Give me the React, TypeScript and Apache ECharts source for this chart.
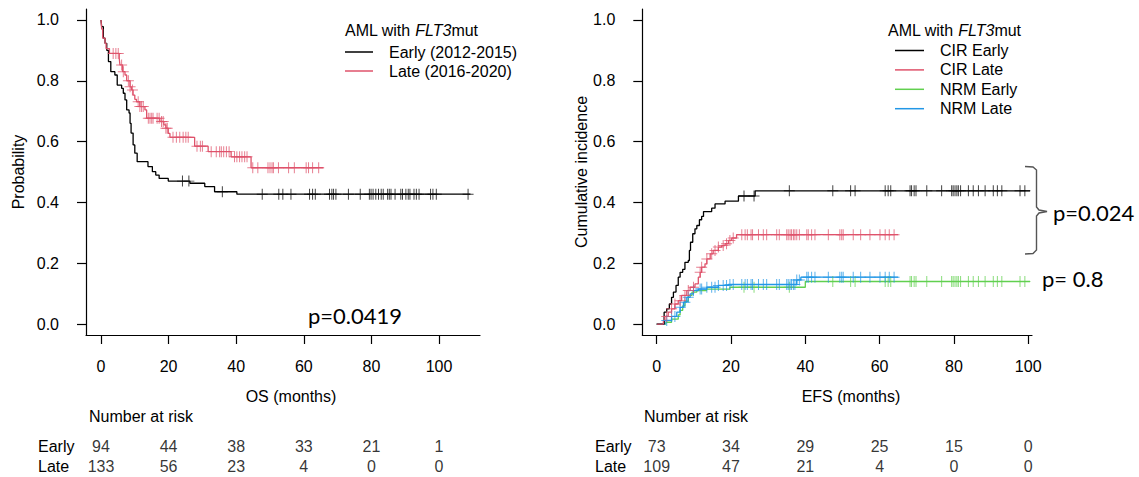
import React, { useEffect, useRef } from "react";
import * as echarts from "echarts";

// ---------- data ----------
const monthTicks = [0, 20, 40, 60, 80, 100];
const probTicks = [0, 0.2, 0.4, 0.6, 0.8, 1.0];
const riskRows = ["Early", "Late"];

// OS (Kaplan-Meier) – [month, probability] at each step
const osEarlySteps = [
  [0, 1.0], [0.2, 0.978], [0.7, 0.94], [1.2, 0.923], [1.7, 0.9], [2.2, 0.863], [2.9, 0.83],
  [4.1, 0.819], [4.8, 0.786], [6.1, 0.775], [6.6, 0.759], [7.1, 0.737], [7.6, 0.704],
  [8.3, 0.694], [8.6, 0.66], [8.9, 0.628], [9.5, 0.589], [10.0, 0.562], [10.7, 0.534],
  [13.9, 0.518], [15.2, 0.501], [16.2, 0.49], [17.2, 0.479], [19.9, 0.47], [26.3, 0.463],
  [30.7, 0.452], [33.6, 0.435], [40.2, 0.427],
];
const osEarlyEnd = 109.3;
const osEarlyCensor = [
  24.1, 26.0, 35.9, 47.7, 52.6, 53.8, 56.2, 61.7, 62.6, 63.4, 67.6, 68.3, 68.8, 69.5, 73.2,
  76.7, 79.4, 79.9, 80.5, 81.3, 82.1, 82.9, 83.5, 84.8, 85.3, 85.8, 87.0, 88.7, 89.2, 90.2,
  90.9, 91.4, 92.6, 93.3, 94.1, 97.5, 98.2, 99.2, 108.6,
];
const osLateSteps = [
  [0, 1.0], [0.2, 0.97], [0.5, 0.94], [1.2, 0.923], [1.5, 0.906], [2.5, 0.89], [5.4, 0.874],
  [5.6, 0.852], [6.4, 0.83], [7.1, 0.819], [7.6, 0.8], [8.6, 0.78], [9.0, 0.77], [9.5, 0.753],
  [10.0, 0.739], [10.5, 0.731], [11.5, 0.715], [13.0, 0.704], [13.5, 0.677], [17.4, 0.666],
  [18.6, 0.655], [19.2, 0.644], [19.9, 0.627], [20.4, 0.614], [27.7, 0.585], [31.7, 0.567],
  [38.5, 0.55], [44.4, 0.514],
];
const osLateEnd = 65.8;
const osLateCensor = [
  3.6, 4.4, 5.1, 6.1, 6.6, 8.1, 8.6, 9.3, 11.0, 11.5, 12.0, 12.5, 14.0, 14.5, 15.0, 15.4, 16.6,
  17.2, 17.9, 18.4, 19.2, 19.6, 21.3, 22.3, 23.3, 24.3, 25.1, 25.8, 28.4, 29.4, 30.0, 32.6,
  34.1, 35.1, 35.6, 36.3, 37.1, 37.9, 39.5, 40.2, 41.0, 41.7, 42.5, 43.2, 44.9, 46.4, 49.4,
  50.0, 50.6, 51.0, 52.5, 55.5, 57.2, 60.7, 61.4, 62.6, 64.4,
];
const osRiskEarly = [94, 44, 38, 33, 21, 1];
const osRiskLate = [133, 56, 23, 4, 0, 0];

// EFS – cumulative incidence (CIR / NRM)
const cirEarlySteps = [
  [0, 0], [2.0, 0.039], [2.7, 0.05], [3.4, 0.066], [4.0, 0.088], [4.5, 0.105], [5.2, 0.127],
  [5.8, 0.154], [6.3, 0.17], [7.0, 0.18], [7.6, 0.203], [8.5, 0.209], [8.8, 0.242],
  [9.1, 0.269], [9.7, 0.297], [10.3, 0.313], [10.8, 0.324], [11.5, 0.343], [12.1, 0.354],
  [12.6, 0.37], [14.8, 0.381], [15.7, 0.395], [18.4, 0.404], [22.0, 0.421], [26.5, 0.438],
];
const cirLateSteps = [
  [0, 0], [1.8, 0.012], [2.2, 0.025], [3.1, 0.039], [4.0, 0.05], [4.9, 0.066], [5.8, 0.077],
  [6.7, 0.094], [8.1, 0.11], [9.0, 0.121], [10.3, 0.132], [11.2, 0.154], [11.7, 0.17],
  [12.1, 0.187], [13.0, 0.198], [13.5, 0.214], [14.4, 0.231], [15.2, 0.242], [16.6, 0.253],
  [17.5, 0.258], [18.4, 0.264], [19.3, 0.275], [20.2, 0.283], [21.5, 0.294],
];
const nrmEarlySteps = [
  [0, 0], [2.5, 0.006], [4.0, 0.016], [5.8, 0.03], [6.3, 0.045], [7.0, 0.06], [7.6, 0.075],
  [8.5, 0.094], [9.5, 0.105], [10.8, 0.11], [13.4, 0.115], [19.7, 0.121], [40.0, 0.14],
];
const nrmLateSteps = [
  [0, 0], [2.2, 0.012], [4.0, 0.025], [5.4, 0.039], [6.3, 0.055], [7.2, 0.072], [8.1, 0.088],
  [9.0, 0.099], [9.9, 0.11], [11.2, 0.115], [13.5, 0.121], [16.6, 0.127], [19.3, 0.13],
  [37.7, 0.145], [38.8, 0.154],
];
const efsEarlyEnd = 100.5;
const efsLateEnd = 65.0;
const efsEarlyCensor = [
  23.5, 26.2, 35.7, 47.4, 52.2, 53.4, 61.5, 62.3, 63.0, 68.2, 68.6, 69.3, 69.8, 72.7, 76.7,
  79.4, 79.8, 80.3, 80.8, 81.2, 81.8, 83.9, 85.2, 86.6, 88.4, 90.6, 91.7, 92.9, 97.8, 99.1,
];
const efsLateCensor = [
  2.7, 4.0, 4.9, 6.3, 7.6, 8.5, 9.9, 11.7, 12.1, 13.5, 14.8, 15.7, 16.6, 17.9, 18.8, 19.7,
  20.6, 22.9, 23.8, 24.4, 25.4, 25.8, 27.4, 28.7, 29.6, 32.3, 33.0, 35.0, 35.4, 35.9, 36.3,
  36.8, 37.2, 37.7, 38.4, 40.4, 40.8, 41.7, 42.6, 46.2, 49.3, 49.8, 50.2, 52.9, 54.9, 57.4,
  60.1, 61.5, 62.6, 63.9,
];
const efsRiskEarly = [73, 34, 29, 25, 15, 0];
const efsRiskLate = [109, 47, 21, 4, 0, 0];

// ---------- helpers ----------
function stepValue(steps: number[][], t: number) {
  let v = steps[0][1];
  for (const s of steps) if (s[0] <= t) v = s[1];
  return v;
}
function lineData(steps: number[][], end: number) {
  return [...steps, [end, steps[steps.length - 1][1]]];
}
function censorData(steps: number[][], times: number[]) {
  return times.map((t) => [t, stepValue(steps, t)]);
}

// ---------- layout / style ----------
const FONT = '"Liberation Sans", Arial, Helvetica, sans-serif';
const PFONT = 'Lato, "Open Sans", sans-serif';
const BLACK = "#000000";
const RED = "#DF536B";
const GREEN = "#61D04F";
const BLUE = "#2297E6";
const PLUS =
  "path://M-0.09,-1L0.09,-1L0.09,-0.09L1,-0.09L1,0.09L0.09,0.09L0.09,1L-0.09,1L-0.09,0.09L-1,0.09L-1,-0.09L-0.09,-0.09Z";

const L = { left: 86, right: 480, x0: 101, ppm: 3.38 };
const R = { left: 642.3, right: 1032, x0: 656.7, ppm: 3.715 };
const plotTop = 9;
const plotH = 326;
const yMin = -0.036;
const yMax = 1.036;

function xRange(g: typeof L) {
  const min = -(g.x0 - g.left) / g.ppm;
  const max = min + (g.right - g.left) / g.ppm;
  return { min, max };
}

function mainXAxis(gridIndex: number, g: typeof L) {
  const r = xRange(g);
  return {
    type: "value",
    gridIndex,
    min: r.min,
    max: r.max,
    axisLine: { show: true, onZero: false, lineStyle: { color: "#000", width: 1.2 } },
    axisTick: { show: true, customValues: monthTicks, length: 9, lineStyle: { color: "#000", width: 1.2 } },
    axisLabel: { show: true, customValues: monthTicks, margin: 23, fontSize: 16, color: "#000", fontFamily: FONT },
    splitLine: { show: false },
  };
}
function mainYAxis(gridIndex: number, name: string, nameGap: number) {
  return {
    type: "value",
    gridIndex,
    min: yMin,
    max: yMax,
    name,
    nameLocation: "middle",
    nameRotate: 90,
    nameGap,
    nameTextStyle: { fontSize: 16, color: "#000", fontFamily: FONT },
    axisLine: { show: true, onZero: false, lineStyle: { color: "#000", width: 1.2 } },
    axisTick: { show: true, customValues: probTicks, length: 9, lineStyle: { color: "#000", width: 1.2 } },
    axisLabel: {
      show: true,
      customValues: probTicks,
      margin: 27,
      fontSize: 16,
      color: "#000",
      fontFamily: FONT,
      formatter: (v: number) => v.toFixed(1),
    },
    splitLine: { show: false },
  };
}
function riskXAxis(gridIndex: number, g: typeof L) {
  const r = xRange(g);
  return { type: "value", gridIndex, min: r.min, max: r.max, show: false };
}
function riskYAxis(gridIndex: number, margin: number) {
  return {
    type: "category",
    gridIndex,
    data: riskRows,
    inverse: true,
    axisLine: { show: false },
    axisTick: { show: false },
    axisLabel: { interval: 0, align: "left", margin, fontSize: 16, color: "#000", fontFamily: FONT },
    splitLine: { show: false },
  };
}
function curve(name: string, idx: number, steps: number[][], end: number, color: string) {
  return {
    type: "line",
    name,
    xAxisIndex: idx,
    yAxisIndex: idx,
    step: "end",
    showSymbol: false,
    symbol: "none",
    silent: true,
    lineStyle: { color, width: 1.3 },
    itemStyle: { color },
    data: lineData(steps, end),
    z: 3,
  };
}
function censors(idx: number, steps: number[][], times: number[], color: string) {
  return {
    type: "scatter",
    name: "censor-" + color,
    xAxisIndex: idx,
    yAxisIndex: idx,
    symbol: PLUS,
    symbolSize: 11,
    silent: true,
    itemStyle: { color, opacity: 0.75 },
    data: censorData(steps, times),
    z: 4,
  };
}
function riskSeries(idx: number, early: number[], late: number[]) {
  const data = [
    ...monthTicks.map((t, i) => [t, "Early", early[i]]),
    ...monthTicks.map((t, i) => [t, "Late", late[i]]),
  ];
  return {
    type: "scatter",
    name: "risk" + idx,
    xAxisIndex: idx,
    yAxisIndex: idx,
    symbolSize: 1,
    silent: true,
    itemStyle: { color: "rgba(0,0,0,0)" },
    label: {
      show: true,
      position: "inside",
      formatter: (p: any) => String(p.value[2]),
      fontSize: 16,
      color: "#000",
      fontFamily: FONT,
    },
    data,
  };
}
function txt(text: string, x: number, y: number, opts: any = {}) {
  return {
    type: "text",
    x,
    y,
    silent: true,
    style: {
      text,
      fill: "#000",
      font: `16px ${FONT}`,
      textAlign: opts.align || "left",
      textVerticalAlign: "middle",
      ...(opts.style || {}),
    },
  };
}

function buildOption() {
  const legendCommon = {
    orient: "vertical",
    icon: "rect",
    itemHeight: 1.5,
    padding: 0,
    selectedMode: false,
    formatter: (name: string) => "{g|}" + name,
    textStyle: {
      fontSize: 16,
      lineHeight: 16,
      color: "#000",
      fontFamily: FONT,
      rich: { g: { width: 11 } },
    },
  };
  return {
    animation: false,
    backgroundColor: "#ffffff",
    grid: [
      { left: L.left, top: plotTop, width: L.right - L.left, height: plotH, outerBoundsMode: "none" },
      { left: R.left, top: plotTop, width: R.right - R.left, height: plotH, outerBoundsMode: "none" },
      { left: L.left, top: 436, width: L.right - L.left, height: 40, outerBoundsMode: "none" },
      { left: R.left, top: 436, width: R.right - R.left, height: 40, outerBoundsMode: "none" },
    ],
    xAxis: [mainXAxis(0, L), mainXAxis(1, R), riskXAxis(2, L), riskXAxis(3, R)],
    yAxis: [
      mainYAxis(0, "Probability", 60),
      mainYAxis(1, "Cumulative incidence", 37),
      riskYAxis(2, L.left - 38),
      riskYAxis(3, R.left - 595),
    ],
    legend: [
      {
        ...legendCommon,
        left: 345,
        top: 44,
        itemWidth: 28,
        itemGap: 3,
        data: ["Early (2012-2015)", "Late (2016-2020)"],
      },
      {
        ...legendCommon,
        left: 895,
        top: 42.5,
        itemWidth: 29,
        itemGap: 3.4,
        data: ["CIR Early", "CIR Late", "NRM Early", "NRM Late"],
      },
    ],
    series: [
      curve("Early (2012-2015)", 0, osEarlySteps, osEarlyEnd, BLACK),
      curve("Late (2016-2020)", 0, osLateSteps, osLateEnd, RED),
      censors(0, osEarlySteps, osEarlyCensor, BLACK),
      censors(0, osLateSteps, osLateCensor, RED),
      curve("NRM Early", 1, nrmEarlySteps, efsEarlyEnd, GREEN),
      curve("NRM Late", 1, nrmLateSteps, efsLateEnd, BLUE),
      curve("CIR Early", 1, cirEarlySteps, efsEarlyEnd, BLACK),
      curve("CIR Late", 1, cirLateSteps, efsLateEnd, RED),
      censors(1, nrmEarlySteps, efsEarlyCensor, GREEN),
      censors(1, nrmLateSteps, efsLateCensor, BLUE),
      censors(1, cirEarlySteps, efsEarlyCensor, BLACK),
      censors(1, cirLateSteps, efsLateCensor, RED),
      riskSeries(2, osRiskEarly, osRiskLate),
      riskSeries(3, efsRiskEarly, efsRiskLate),
    ],
    graphic: {
      elements: [
        txt("OS (months)", 291, 396, { align: "center" }),
        txt("EFS (months)", 851, 396, { align: "center" }),
        txt("Number at risk", 89, 416),
        txt("Number at risk", 644, 416),
        {
          type: "text",
          x: 345,
          y: 30,
          silent: true,
          style: {
            text: "AML with {i|FLT3}mut",
            fill: "#000",
            font: `16px ${FONT}`,
            textVerticalAlign: "middle",
            rich: { i: { fontStyle: "italic", fontSize: 16, fontFamily: FONT, fill: "#000" } },
          },
        },
        {
          type: "text",
          x: 888,
          y: 30,
          silent: true,
          style: {
            text: "AML with {i|FLT3}mut",
            fill: "#000",
            font: `16px ${FONT}`,
            textVerticalAlign: "middle",
            rich: { i: { fontStyle: "italic", fontSize: 16, fontFamily: FONT, fill: "#000" } },
          },
        },
        txt("p=0.0419", 308, 315, { style: { font: `22px ${PFONT}` } }),
        txt("p=0.024", 1053, 212, { style: { font: `22px ${PFONT}` } }),
        txt("p= 0.8", 1042, 278, { style: { font: `22px ${PFONT}` } }),
        {
          type: "polyline",
          silent: true,
          shape: {
            points: [
              [1025, 166.5], [1033, 167], [1036.5, 170], [1036.5, 207], [1039, 210], [1047, 211.5],
              [1039, 213], [1036.5, 216], [1036.5, 250], [1033, 253.5], [1025, 254],
            ],
          },
          style: { stroke: "#555", lineWidth: 1.4, fill: null },
        },
      ],
    },
  };
}

export default function App() {
  const ref = useRef<HTMLDivElement>(null);
  useEffect(() => {
    if (!ref.current) return;
    const chart = echarts.init(ref.current, null, { renderer: "svg" });
    chart.setOption(buildOption() as any);
    return () => chart.dispose();
  }, []);
  return (
    <div
      ref={ref}
      style={{ position: "absolute", left: 0, top: 0, width: 1139, height: 477, background: "#fff" }}
    />
  );
}
